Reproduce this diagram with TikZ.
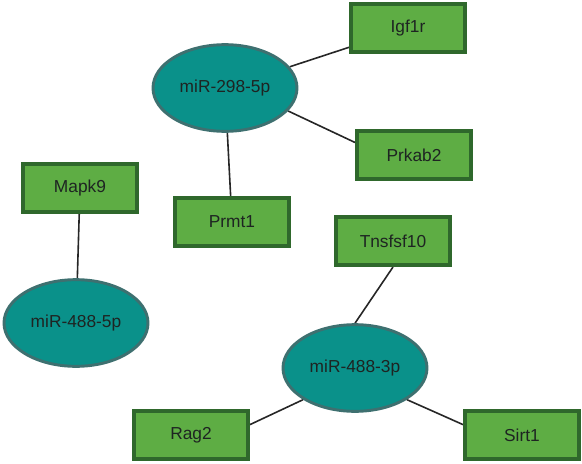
\documentclass[tikz,border=0pt]{standalone}
\usepackage{fontspec}
\setmainfont{Liberation Sans}
\usetikzlibrary{shapes.geometric,backgrounds}
\definecolor{genefill}{RGB}{94,173,68}
\definecolor{genedraw}{RGB}{47,104,44}
\definecolor{mirfill}{RGB}{10,145,138}
\definecolor{mirdraw}{RGB}{62,112,112}
\definecolor{txt}{RGB}{30,36,34}
\begin{document}
\begin{tikzpicture}[x=0.75pt,y=-0.75pt,
		gene/.style={draw=genedraw,fill=genefill,line width=3pt,minimum width=85.5pt,minimum height=36pt,inner sep=0pt},
		mir/.style={ellipse,draw=mirdraw,fill=mirfill,line width=2.2pt,minimum width=108pt,minimum height=65pt,inner sep=0pt},
		link/.style={line width=1.2pt,draw=black!85}]
		\useasboundingbox (0,0) rectangle (582,464);
		\tikzset{every node/.append style={text=txt,font=\fontsize{13}{15}\selectfont}}
		% cum 298-5p
		\node[mir] (m298) at (225,88) {miR-298-5p};
		\node[gene] (Igf) at (408,28) {Igf1r};
		\node[gene] (Prk) at (414,155) {Prkab2};
		\node[gene] (Prm) at (232,222) {Prmt1};
		% cum 488-5p
		\node[gene] (Mapk) at (80,188) {Mapk9};
		\node[mir] (m5p) at (76,323) {miR-488-5p};
		% cum 488-3p
		\node[gene] (Tns) at (393,241) {Tnsfsf10};
		\node[mir] (m3p) at (355,368) {miR-488-3p};
		\node[gene] (Rag) at (191,435) {Rag2};
		\node[gene] (Sirt) at (522,435) {Sirt1};
		\begin{scope}[on background layer]
		\draw[link] (m298) -- (Igf);
		\draw[link] (m298.-20) -- (Prk.168);
		\draw[link] (m298) -- (Prm);
		\draw[link] (Mapk) -- (m5p);
		\draw[link] (Tns.south) -- (m3p.north);
		\draw[link] (m3p.south west) -- (Rag.10);
		\draw[link] (m3p.south east) -- (Sirt.170);
		\end{scope}
\end{tikzpicture}
\end{document}
